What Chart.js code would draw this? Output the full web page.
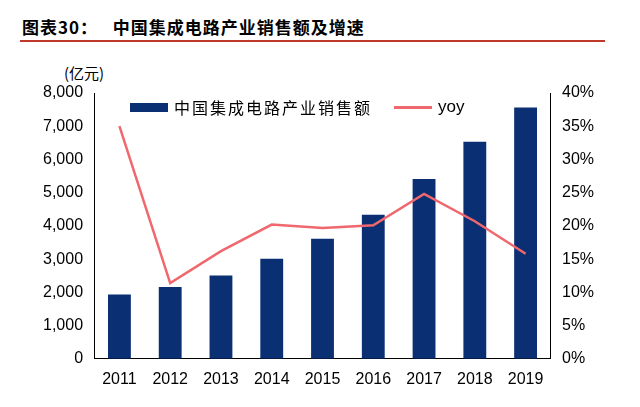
<!DOCTYPE html>
<html><head><meta charset="utf-8">
<script src="https://cdn.jsdelivr.net/npm/chart.js@4"></script>
<style>
body{margin:0;background:#fff;width:640px;height:407px;overflow:hidden;font-family:"Noto Sans CJK SC",sans-serif}
#title{position:absolute;left:22px;top:14px;font-size:17px;font-weight:bold;color:#000;letter-spacing:1px}
#rule{position:absolute;left:20px;top:40px;width:585px;height:2px;background:#c0392b}
#unit{position:absolute;left:64px;top:62px;font-size:15px;color:#000}
#wrap{position:absolute;left:0;top:70px;width:640px;height:337px}
#legend{position:absolute;left:130px;top:95px;font-size:16px;color:#000;display:flex;align-items:center}
.sw{display:inline-block;margin-right:6px}
</style></head><body>
<div id="title">图表30：&nbsp;&nbsp;&nbsp;中国集成电路产业销售额及增速</div>
<div id="rule"></div>
<div id="unit">(亿元)</div>
<div id="wrap"><canvas id="c"></canvas></div>
<div id="legend"></div>
<script>
var years = ['2011','2012','2013','2014','2015','2016','2017','2018','2019'];
var sales = [1933, 2158, 2509, 3015, 3610, 4336, 5411, 6532, 7562];
var yoy = [35.0, 11.4, 16.2, 20.2, 19.7, 20.1, 24.8, 20.7, 15.8];
var barColor = '#0a2f73', lineColor = '#f0686e';

document.getElementById('legend').innerHTML =
    '<span class="sw" style="width:38px;height:9px;background:' + barColor + '"></span>' +
    '<span style="letter-spacing:2px">中国集成电路产业销售额</span>' +
    '<span class="sw" style="width:38px;height:3px;background:' + lineColor + ';margin-left:22px"></span>' +
    '<span style="font-family:Liberation Sans;font-size:17px">yoy</span>';

new Chart(document.getElementById('c'), {
    type: 'bar',
    data: {
        labels: years,
        datasets: [{
            type: 'line',
            label: 'yoy',
            data: yoy,
            borderColor: lineColor,
            borderWidth: 2.5,
            pointRadius: 0,
            tension: 0,
            yAxisID: 'y1',
            order: 0
        }, {
            label: '中国集成电路产业销售额',
            data: sales,
            backgroundColor: barColor,
            barPercentage: 0.45,
            categoryPercentage: 1,
            yAxisID: 'y',
            order: 1
        }]
    },
    options: {
        responsive: true,
        maintainAspectRatio: false,
        animation: false,
        layout: {padding: {left: 40, right: 43, top: 23, bottom: 15}},
        plugins: {
            legend: {display: false},
            tooltip: {enabled: false}
        },
        scales: {
            x: {
                grid: {display: false},
                border: {color: '#000'},
                ticks: {color: '#000', font: {size: 16, family: 'Liberation Sans'}}
            },
            y: {
                min: 0, max: 8000,
                ticks: {stepSize: 1000, color: '#000', font: {size: 16, family: 'Liberation Sans'},
                    callback: function(v) { return v.toLocaleString('en-US'); }},
                grid: {display: false},
                border: {color: '#000'}
            },
            y1: {
                position: 'right',
                min: 0, max: 40,
                ticks: {stepSize: 5, color: '#000', font: {size: 16, family: 'Liberation Sans'},
                    callback: function(v) { return v + '%'; }},
                grid: {display: false},
                border: {color: '#000'}
            }
        }
    }
});
</script>
</body></html>
